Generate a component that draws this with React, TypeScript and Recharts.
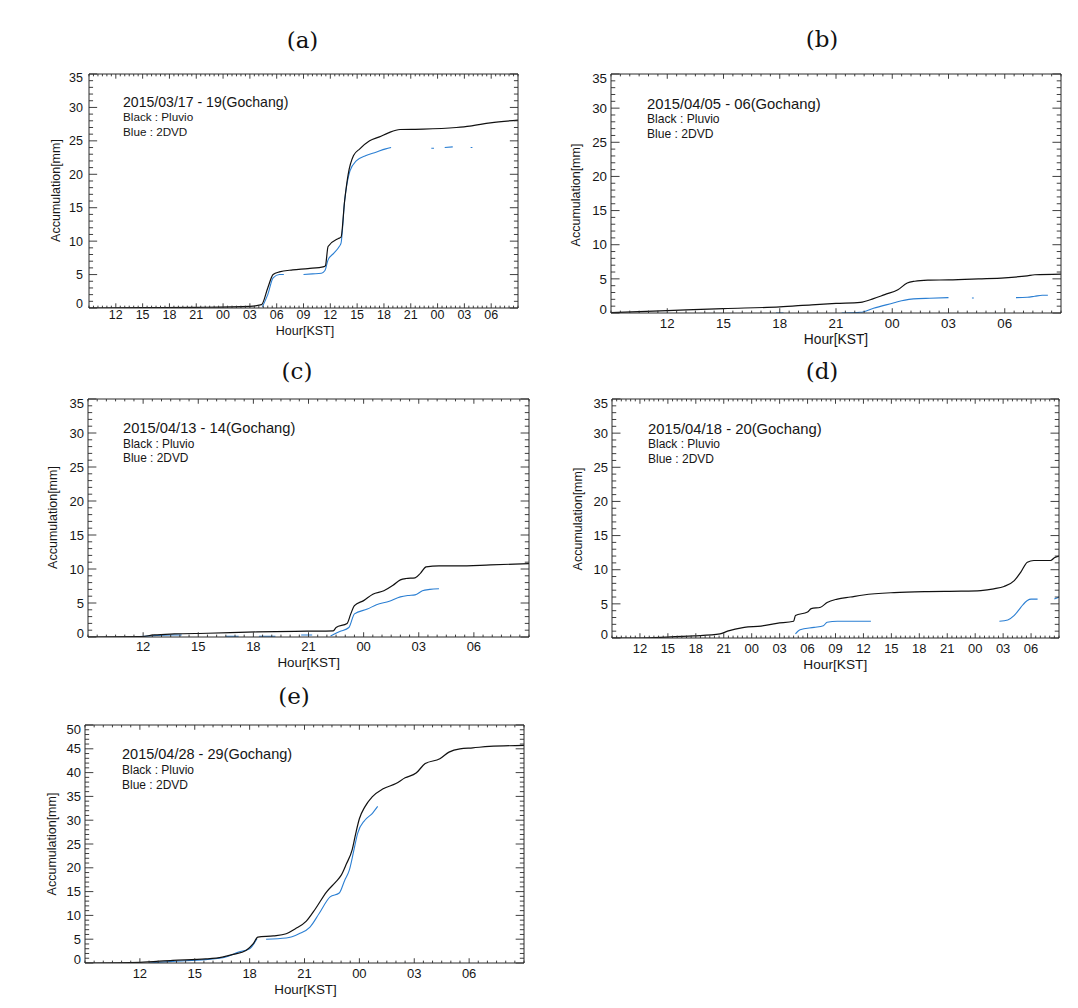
import React from 'react';
import { LineChart, Line, XAxis, YAxis } from 'recharts';

// ---------- tick labels ----------
const ticks48Hours = [12, 15, 18, 21, 24, 27, 30, 33, 36, 39, 42, 45, 48, 51, 54];
const ticks48Labels = ['12', '15', '18', '21', '00', '03', '06', '09', '12', '15', '18', '21', '00', '03', '06'];
const ticks24Hours = [12, 15, 18, 21, 24, 27, 30];
const ticks24Labels = ['12', '15', '18', '21', '00', '03', '06'];
const yMajors35 = [0, 5, 10, 15, 20, 25, 30, 35];
const yMajors50 = [0, 5, 10, 15, 20, 25, 30, 35, 40, 45, 50];

// ---------- (a) 2015/03/17 - 19 (hours from 03/17 00 KST) ----------
const aPluvioHour = [9, 15, 21, 27, 28.3, 29.0, 29.6, 30.3, 31.8, 33.5, 35.3, 35.45, 35.75, 36.9, 37.2, 37.6, 38.0, 38.6, 39.3, 40.4, 41.5, 42.5, 43.8, 46.4, 50.1, 51.6, 53.9, 57];
const aPluvioMm = [0.0, 0.05, 0.1, 0.25, 0.5, 3.0, 5.0, 5.4, 5.7, 5.9, 6.2, 6.3, 9.2, 10.4, 10.6, 16, 20, 22.8, 23.8, 25, 25.6, 26.2, 26.7, 26.75, 27.0, 27.2, 27.7, 28.1];
const aDvdHour = [28.4, 29.0, 29.6, 30.3, 30.8, 31.5, 33.0, 34.0, 35.0, 35.4, 35.75, 36.4, 37.0, 37.2, 37.6, 38.2, 38.9, 40.0, 41.1, 42.2, 42.8, 43.5, 47.3, 47.6, 48.0, 48.8, 49.7, 50.5, 51.7, 51.9];
const aDvdMm = [0.2, 2.0, 4.5, 5.0, 5.0, null, 5.0, 5.1, 5.2, 5.6, 7.2, 8.2, 9.2, 9.7, 16, 20.5, 22, 22.8, 23.3, 23.8, 24.0, null, 23.9, 23.9, null, 24.0, 24.1, null, 24.0, 24.0];

// ---------- (b) 2015/04/05 - 06 ----------
const bPluvioHour = [9, 12, 15, 18, 19.7, 21, 22.3, 23, 23.6, 24.3, 24.8, 25.2, 25.9, 27, 28.6, 30, 31.2, 31.6, 33];
const bPluvioMm = [0.05, 0.35, 0.65, 0.9, 1.2, 1.4, 1.55, 2.1, 2.7, 3.4, 4.4, 4.65, 4.8, 4.85, 5.0, 5.15, 5.45, 5.6, 5.7];
const bDvdHour = [17.8, 18.2, 18.5, 21.3, 22.3, 23.0, 24.1, 24.5, 25.4, 26.0, 27.0, 27.5, 28.25, 28.35, 29.0, 30.6, 31.2, 31.6, 32.0, 32.3];
const bDvdMm = [0.0, 0.0, null, 0.0, 0.1, 0.7, 1.5, 1.8, 2.1, 2.15, 2.25, null, 2.2, 2.2, null, 2.25, 2.3, 2.45, 2.6, 2.6];

// ---------- (c) 2015/04/13 - 14 ----------
const cPluvioHour = [9, 11.8, 12.6, 13.7, 15.5, 18.2, 20.9, 22.35, 22.5, 23.1, 23.3, 23.5, 24.0, 24.5, 25.1, 25.6, 26.0, 26.3, 26.8, 27.1, 27.4, 28.1, 29.1, 30.9, 33];
const cPluvioMm = [0, 0.05, 0.3, 0.45, 0.55, 0.75, 0.85, 0.9, 1.4, 2.0, 3.4, 4.6, 5.35, 6.3, 6.8, 7.6, 8.4, 8.6, 8.7, 9.4, 10.3, 10.45, 10.45, 10.6, 10.8];
const cDvdHour = [11.8, 12.6, 13.5, 14.1, 14.5, 16.5, 17.2, 17.5, 18.3, 19.2, 19.6, 20.6, 21.2, 21.6, 22.2, 22.7, 23.2, 23.5, 24.2, 24.7, 25.4, 26.0, 26.4, 26.8, 27.2, 27.6, 28.1];
const cDvdMm = [0.05, 0.2, 0.3, 0.3, null, 0.1, 0.1, null, 0.1, 0.1, null, 0.3, 0.3, null, 0.15, 0.8, 1.4, 3.4, 4.1, 4.75, 5.25, 5.9, 6.1, 6.2, 6.8, 7.0, 7.1];

// ---------- (d) 2015/04/18 - 20 ----------
const dPluvioHour = [9, 11.7, 14.2, 17.8, 20.6, 21.4, 23.2, 25, 26.7, 28.5, 28.7, 30, 30.4, 31.4, 32.1, 33.2, 34.6, 36, 39.3, 42.9, 46.5, 48.6, 50, 51.1, 52.2, 52.9, 53.6, 54.3, 56.1, 56.5, 57];
const dPluvioMm = [0, 0, 0.1, 0.3, 0.6, 1.0, 1.55, 1.75, 2.15, 2.45, 3.3, 3.8, 4.3, 4.5, 5.2, 5.7, 6.0, 6.3, 6.65, 6.8, 6.85, 6.95, 7.2, 7.55, 8.4, 9.65, 11.1, 11.35, 11.35, 11.75, 12.0];
const dDvdHour = [28.7, 29.2, 30.7, 31.7, 32.1, 33.2, 35.7, 36.8, 37.5, 50.6, 51.5, 52.2, 52.9, 53.6, 54.0, 54.7, 55.5, 56.5, 57];
const dDvdMm = [0.6, 1.2, 1.55, 1.8, 2.3, 2.45, 2.45, 2.45, null, 2.45, 2.65, 3.3, 4.5, 5.5, 5.7, 5.7, null, 5.7, 6.0];

// ---------- (e) 2015/04/28 - 29 ----------
const ePluvioHour = [9, 12, 13.8, 15.6, 16.5, 17.1, 17.8, 18.2, 18.45, 19.3, 20, 20.5, 21.1, 21.6, 22.2, 22.7, 23, 23.3, 23.6, 23.8, 24, 24.3, 24.7, 25.3, 26, 26.5, 27.1, 27.6, 28.4, 28.9, 29.5, 30.2, 31.1, 33];
const ePluvioMm = [0, 0.15, 0.55, 0.85, 1.25, 1.8, 2.65, 4.05, 5.45, 5.7, 6.15, 7.2, 8.8, 11.4, 14.9, 17, 18.4, 20.9, 23.7, 27.2, 30.3, 32.8, 34.9, 36.6, 37.7, 38.9, 39.9, 41.9, 42.9, 44.3, 45, 45.2, 45.5, 45.7];
const eDvdHour = [12.5, 13.8, 15.6, 16.7, 17.4, 18.0, 18.4, 18.6, 18.9, 20.0, 20.7, 21.3, 21.8, 22.4, 22.9, 23.2, 23.45, 23.7, 23.9, 24.3, 24.7, 25.0];
const eDvdMm = [0, 0.35, 0.7, 1.25, 2.3, 3.0, 5.1, null, 5.0, 5.25, 6.15, 7.55, 10.4, 13.9, 14.7, 17.4, 19.5, 23.7, 27.2, 30, 31.4, 32.9];

const titles = ['2015/03/17 - 19(Gochang)', '2015/04/05 - 06(Gochang)', '2015/04/13 - 14(Gochang)', '2015/04/18 - 20(Gochang)', '2015/04/28 - 29(Gochang)'];
const panelLetters = ['(a)', '(b)', '(c)', '(d)', '(e)'];

type Pt = { h: number; v: number | null };
const zip = (h: number[], v: (number | null)[]): Pt[] => h.map((x, i) => ({ h: x, v: v[i] }));

const FRAME = '#2a2a2a';
const TEXT = '#161616';
const BLACK = '#111111';
const BLUE = '#2b7fd3';
const SANS = '"Liberation Sans", Arial, Helvetica, sans-serif';

type Cfg = {
  L: number; T: number; R: number; B: number;
  xMin: number; xMax: number; yMax: number;
  xMajors: number[]; xLabels: string[]; yMajors: number[];
  pluvio: Pt[]; dvd: Pt[];
  tickFont: number; xLabelOff: number; yLabelGap: number;
  ann: { x: number; t: number; b: number; u: number; tf: number; sf: number };
  hour: { x: number; y: number; fs: number };
  acc: { x: number; y: number };
  letter: { x: number; y: number };
};

const PANELS: Cfg[] = [
  {
    L: 89, T: 74, R: 518, B: 308, xMin: 9, xMax: 57, yMax: 35,
    xMajors: ticks48Hours, xLabels: ticks48Labels, yMajors: yMajors35,
    pluvio: zip(aPluvioHour, aPluvioMm), dvd: zip(aDvdHour, aDvdMm),
    tickFont: 12.5, xLabelOff: 6.5, yLabelGap: 6,
    ann: { x: 123, t: 102, b: 117.2, u: 131.8, tf: 14.1, sf: 11.7 },
    hour: { x: 305, y: 331.5, fs: 12.5 }, acc: { x: 56.7, y: 190.5 }, letter: { x: 302.5, y: 41 },
  },
  {
    L: 611, T: 74, R: 1061, B: 313, xMin: 9, xMax: 33, yMax: 35,
    xMajors: ticks24Hours, xLabels: ticks24Labels, yMajors: yMajors35,
    pluvio: zip(bPluvioHour, bPluvioMm), dvd: zip(bDvdHour, bDvdMm),
    tickFont: 13.3, xLabelOff: 10.6, yLabelGap: 4,
    ann: { x: 647, t: 103.3, b: 118.8, u: 134, tf: 14.8, sf: 12.1 },
    hour: { x: 836, y: 340.3, fs: 13.8 }, acc: { x: 577, y: 195 }, letter: { x: 822, y: 40 },
  },
  {
    L: 88, T: 399, R: 529, B: 637, xMin: 9, xMax: 33, yMax: 35,
    xMajors: ticks24Hours, xLabels: ticks24Labels, yMajors: yMajors35,
    pluvio: zip(cPluvioHour, cPluvioMm), dvd: zip(cDvdHour, cDvdMm),
    tickFont: 13, xLabelOff: 9.6, yLabelGap: 4,
    ann: { x: 123, t: 428, b: 443.5, u: 458.2, tf: 14.7, sf: 11.9 },
    hour: { x: 308.7, y: 664, fs: 13.4 }, acc: { x: 54.2, y: 517.5 }, letter: { x: 297, y: 372 },
  },
  {
    L: 612, T: 399, R: 1059, B: 638, xMin: 9, xMax: 57, yMax: 35,
    xMajors: ticks48Hours, xLabels: ticks48Labels, yMajors: yMajors35,
    pluvio: zip(dPluvioHour, dPluvioMm), dvd: zip(dDvdHour, dDvdMm),
    tickFont: 13, xLabelOff: 10.5, yLabelGap: 4,
    ann: { x: 648, t: 428.7, b: 444.2, u: 459.2, tf: 14.8, sf: 12 },
    hour: { x: 835.3, y: 665.8, fs: 13.7 }, acc: { x: 578.7, y: 519 }, letter: { x: 822, y: 372 },
  },
  {
    L: 85, T: 725, R: 524, B: 963, xMin: 9, xMax: 33, yMax: 50,
    xMajors: ticks24Hours, xLabels: ticks24Labels, yMajors: yMajors50,
    pluvio: zip(ePluvioHour, ePluvioMm), dvd: zip(eDvdHour, eDvdMm),
    tickFont: 13, xLabelOff: 10.8, yLabelGap: 4,
    ann: { x: 122, t: 754.3, b: 770, u: 785.2, tf: 14.5, sf: 12 },
    hour: { x: 305.5, y: 990.5, fs: 13.4 }, acc: { x: 52.5, y: 844 }, letter: { x: 294, y: 697 },
  },
];

const range = (a: number, b: number, step: number) => {
  const out: number[] = [];
  const n = Math.round((b - a) / step);
  for (let i = 0; i <= n; i++) out.push(Math.round((a + i * step) * 1000) / 1000);
  return out;
};
const idxOf = (v: number, arr: number[]) => arr.findIndex((m) => Math.abs(m - v) < 1e-6);

function Panel({ cfg }: { cfg: Cfg }) {
  const plotW = cfg.R - cfg.L;
  const plotH = cfg.B - cfg.T;
  const W = plotW + 70;
  const H = plotH + 50;
  const yMaj = plotW * 0.019;
  const yMin = yMaj / 2;
  const xMaj = plotH * 0.02;
  const xMin = xMaj / 2;
  const xTicks = range(cfg.xMin, cfg.xMax, 0.5);
  const yTicks = range(0, cfg.yMax, 1);
  const fs = cfg.tickFont;

  const bottomTick = (p: any) => {
    const { x, y, payload } = p;
    const i = idxOf(payload.value, cfg.xMajors);
    const len = i >= 0 ? xMaj : xMin;
    return (
      <g>
        <line x1={x} x2={x} y1={y} y2={y - len} stroke={FRAME} strokeWidth={0.9} />
        {i >= 0 && (
          <text x={x} y={y + cfg.xLabelOff + 0.358 * fs} textAnchor="middle" fontSize={fs} fontFamily={SANS} fill={TEXT}>
            {cfg.xLabels[i]}
          </text>
        )}
      </g>
    );
  };
  const topTick = (p: any) => {
    const { x, y, payload } = p;
    const i = idxOf(payload.value, cfg.xMajors);
    const len = i >= 0 ? xMaj : xMin;
    return <line x1={x} x2={x} y1={y} y2={y + len} stroke={FRAME} strokeWidth={0.9} />;
  };
  const leftTick = (p: any) => {
    const { x, y, payload } = p;
    const v = payload.value;
    const i = idxOf(v, cfg.yMajors);
    const len = i >= 0 ? yMaj : yMin;
    let adj = 0;
    if (Math.abs(v - cfg.yMax) < 1e-6) adj = 4;
    if (Math.abs(v) < 1e-6) adj = -4;
    return (
      <g>
        <line x1={x} x2={x + len} y1={y} y2={y} stroke={FRAME} strokeWidth={0.9} />
        {i >= 0 && (
          <text x={x - cfg.yLabelGap} y={y + adj + 0.358 * fs} textAnchor="end" fontSize={fs} fontFamily={SANS} fill={TEXT}>
            {String(v)}
          </text>
        )}
      </g>
    );
  };
  const rightTick = (p: any) => {
    const { x, y, payload } = p;
    const i = idxOf(payload.value, cfg.yMajors);
    const len = i >= 0 ? yMaj : yMin;
    return <line x1={x} x2={x - len} y1={y} y2={y} stroke={FRAME} strokeWidth={0.9} />;
  };

  const frameData = [
    { h: cfg.xMin, v: 0 },
    { h: cfg.xMax, v: cfg.yMax },
  ];
  const axisLine = { stroke: FRAME, strokeWidth: 1 };

  return (
    <div style={{ position: 'absolute', left: cfg.L - 55, top: cfg.T - 10, width: W, height: H }}>
      <LineChart width={W} height={H} margin={{ top: 5, right: 5, bottom: 15, left: 15 }}>
        <XAxis xAxisId="b" type="number" dataKey="h" domain={[cfg.xMin, cfg.xMax]} allowDataOverflow
          ticks={xTicks} interval={0} orientation="bottom" height={25} tickSize={0} tickMargin={0}
          tick={bottomTick} tickLine={false} axisLine={axisLine} />
        <XAxis xAxisId="t" type="number" dataKey="h" domain={[cfg.xMin, cfg.xMax]} allowDataOverflow
          ticks={xTicks} interval={0} orientation="top" height={5} tickSize={0} tickMargin={0}
          tick={topTick} tickLine={false} axisLine={axisLine} />
        <YAxis yAxisId="l" type="number" domain={[0, cfg.yMax]} allowDataOverflow ticks={yTicks} interval={0}
          orientation="left" width={40} tickSize={0} tickMargin={0} tick={leftTick} tickLine={false} axisLine={axisLine} />
        <YAxis yAxisId="r" type="number" domain={[0, cfg.yMax]} allowDataOverflow ticks={yTicks} interval={0}
          orientation="right" width={10} tickSize={0} tickMargin={0} tick={rightTick} tickLine={false} axisLine={axisLine} />
        <Line xAxisId="t" yAxisId="r" data={frameData} dataKey="v" stroke="none" dot={false} activeDot={false}
          isAnimationActive={false} legendType="none" />
        <Line xAxisId="b" yAxisId="l" data={cfg.dvd} dataKey="v" stroke={BLUE} strokeWidth={1.1} dot={false}
          activeDot={false} connectNulls={false} isAnimationActive={false} type="monotone" />
        <Line xAxisId="b" yAxisId="l" data={cfg.pluvio} dataKey="v" stroke={BLACK} strokeWidth={1.2} dot={false}
          activeDot={false} connectNulls={false} isAnimationActive={false} type="monotone" />
      </LineChart>
    </div>
  );
}

export default function App() {
  return (
    <div style={{ position: 'absolute', left: 0, top: 0, width: 1078, height: 1008, background: '#ffffff', overflow: 'hidden' }}>
      {PANELS.map((cfg, k) => (
        <Panel key={k} cfg={cfg} />
      ))}
      <svg width={1078} height={1008} style={{ position: 'absolute', left: 0, top: 0, pointerEvents: 'none' }}>
        {PANELS.map((cfg, k) => (
          <g key={k}>
            <text x={cfg.letter.x} y={cfg.letter.y + 0.315 * 23} textAnchor="middle" fontSize={23}
              fontFamily='"DejaVu Serif", "Liberation Serif", serif' fill="#111">
              {panelLetters[k]}
            </text>
            <text x={cfg.ann.x} y={cfg.ann.t + 0.358 * cfg.ann.tf} fontSize={cfg.ann.tf} fontFamily={SANS} fill={TEXT}>
              {titles[k]}
            </text>
            <text x={cfg.ann.x} y={cfg.ann.b + 0.358 * cfg.ann.sf} fontSize={cfg.ann.sf} fontFamily={SANS} fill={TEXT}>
              Black : Pluvio
            </text>
            <text x={cfg.ann.x} y={cfg.ann.u + 0.358 * cfg.ann.sf} fontSize={cfg.ann.sf} fontFamily={SANS} fill={TEXT}>
              Blue : 2DVD
            </text>
            <text x={cfg.hour.x} y={cfg.hour.y + 0.26 * cfg.hour.fs} textAnchor="middle" fontSize={cfg.hour.fs}
              fontFamily={SANS} fill={TEXT}>
              Hour[KST]
            </text>
            <text x={0} y={0} textAnchor="middle" fontSize={12.5} fontFamily={SANS} fill={TEXT}
              transform={`translate(${cfg.acc.x + 0.26 * 12.5}, ${cfg.acc.y}) rotate(-90)`}>
              Accumulation[mm]
            </text>
          </g>
        ))}
      </svg>
    </div>
  );
}
